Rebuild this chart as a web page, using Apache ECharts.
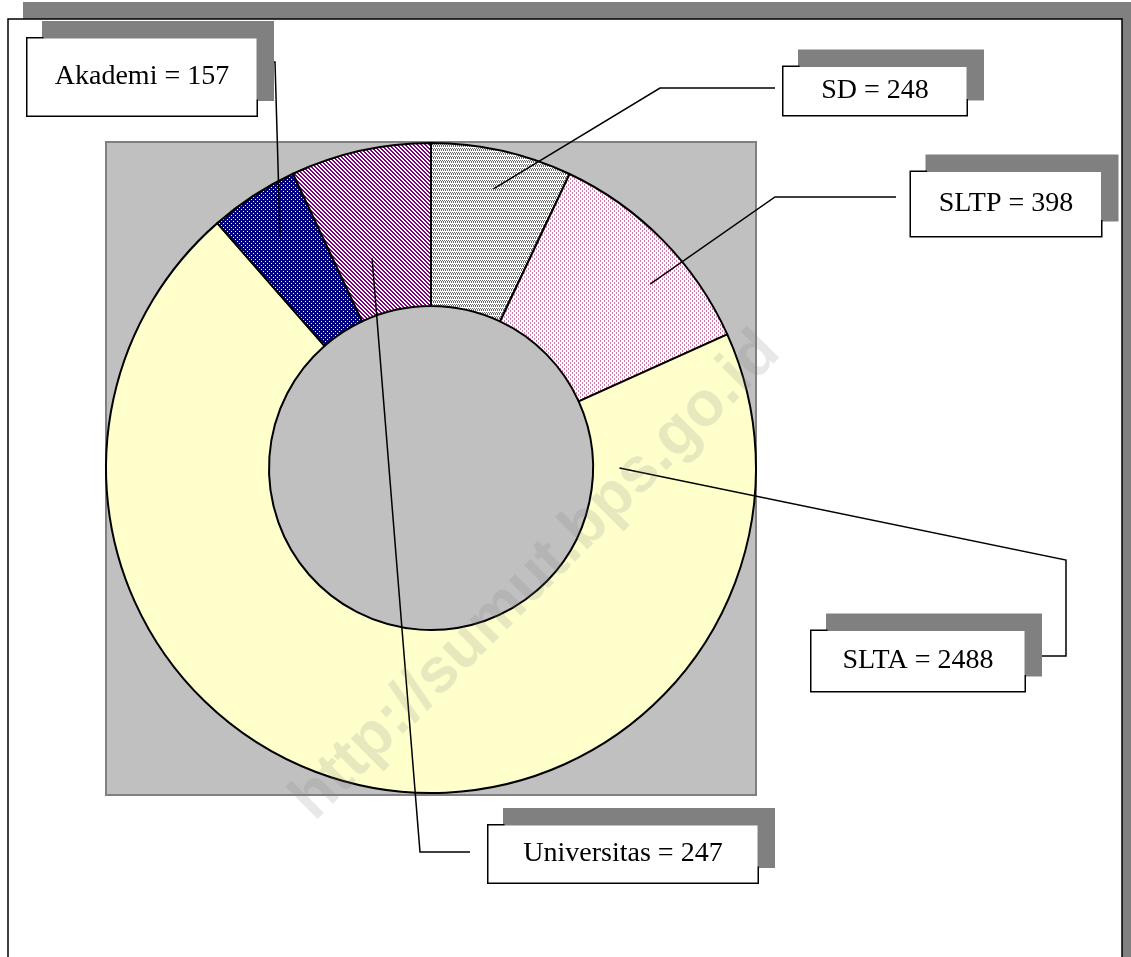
<!DOCTYPE html>
<html>
<head>
<meta charset="utf-8">
<script src="https://cdn.jsdelivr.net/npm/echarts@6/dist/echarts.min.js"></script>
<style>
html,body{margin:0;padding:0;background:#fff;}
#chart{width:1131px;height:957px;}
</style>
</head>
<body>
<div id="chart"></div>
<script>
// ---- data ----
const categories = ['SD', 'SLTP', 'SLTA', 'Akademi', 'Universitas'];
const values = [248, 398, 2488, 157, 247];

// ---- styles (patterns) ----
function makePattern(w, h, bg, fg, pixels) {
  const c = document.createElement('canvas');
  c.width = w; c.height = h;
  const g = c.getContext('2d');
  g.fillStyle = bg; g.fillRect(0, 0, w, h);
  g.fillStyle = fg;
  pixels.forEach(p => g.fillRect(p[0], p[1], 1, 1));
  return { image: c, repeat: 'repeat' };
}
const fills = {
  SD: makePattern(4, 4, '#ffffff', '#6a6a6a', [[0,0],[2,0],[1,1],[3,1],[1,2],[3,2]]),
  SLTP: makePattern(4, 4, '#ffffff', '#d27aac', [[0,0],[0,1],[2,2],[2,3]]),
  SLTA: '#FFFFCC',
  Akademi: makePattern(4, 4, '#000080', '#ffffff', [[1,1],[3,3]]),
  Universitas: makePattern(4, 4, '#ffffff', '#800080', [[0,0],[1,0],[1,1],[2,1],[2,2],[3,2],[3,3],[0,3]])
};

// ---- layout / style of the label boxes and leader lines ----
const CENTER = [431, 468];
const RADII = [162, 325];
// cx, cy: box center; w: box width; pad: padding; rFrac: where the leader starts inside the slice
// bends: leader-line bend points toward the box; anchorDeg: optional start angle (clockwise from top)
const labelBoxes = {
  SD: { cx: 875, cy: 91, w: 185, pad: [8, 0, 8, 0], rFrac: 0.88, bends: [[660, 88], [775, 88]] },
  SLTP: { cx: 1006, cy: 204, w: 192, pad: [16, 0, 16, 0], rFrac: 0.88, anchorDeg: 50, bends: [[775, 197], [896, 197]] },
  SLTA: { cx: 918, cy: 661, w: 215, pad: [14, 0, 14, 0], rFrac: 0.58, anchorDeg: 90, bends: [[1066, 560], [1066, 656], [1040, 656]] },
  Akademi: { cx: 142, cy: 77, w: 231, pad: [12, 0, 33, 0], rFrac: 0.85, bends: [[275, 62], [258, 62]] },
  Universitas: { cx: 623, cy: 854, w: 271, pad: [12, 0, 13, 0], rFrac: 0.67, anchorDeg: -15.7, bends: [[420, 852], [470, 852]] }
};

const chart = echarts.init(document.getElementById('chart'), null, { renderer: 'canvas' });

// slices
const sliceData = categories.map((name, i) => ({
  name: name,
  value: values[i],
  itemStyle: { color: fills[name] }
}));
// same values again, transparent, only to carry labels + leader lines above the slices
const labelData = categories.map((name, i) => ({
  name: name,
  value: values[i],
  label: {
    width: labelBoxes[name].w - 2,
    padding: labelBoxes[name].pad
  }
}));

const option = {
  animation: false,
  backgroundColor: '#ffffff',
  graphic: [
    { type: 'rect', z: -20, shape: { x: 23, y: 2, width: 1108, height: 960 }, style: { fill: '#808080' } },
    { type: 'rect', z: -19, shape: { x: 8, y: 19, width: 1114, height: 960 }, style: { fill: '#ffffff', stroke: '#000000', lineWidth: 1.5 } },
    { type: 'rect', z: -18, shape: { x: 106, y: 142, width: 650, height: 653 }, style: { fill: '#C0C0C0', stroke: '#808080', lineWidth: 2 } },
    { type: 'text', z: 100, x: 536, y: 576, rotation: 45 * Math.PI / 180,
      style: { text: 'http://sumut.bps.go.id', fill: 'rgba(128,128,128,0.18)', font: 'bold 63px "Liberation Sans", Arial, sans-serif', align: 'center', verticalAlign: 'middle' } }
  ],
  series: [{
    type: 'pie',
    z: 2,
    center: CENTER,
    radius: RADII,
    startAngle: 90,
    clockwise: true,
    silent: true,
    itemStyle: { borderColor: '#000000', borderWidth: 2 },
    label: { show: false },
    labelLine: { show: false },
    data: sliceData
  }, {
    type: 'pie',
    z: 5,
    center: CENTER,
    radius: RADII,
    startAngle: 90,
    clockwise: true,
    avoidLabelOverlap: false,
    silent: true,
    itemStyle: { color: 'rgba(0,0,0,0)', borderWidth: 0 },
    label: {
      show: true,
      position: 'outside',
      formatter: '{b} = {c}',
      fontFamily: '"Liberation Serif", "Times New Roman", serif',
      fontSize: 28,
      lineHeight: 32,
      color: '#000000',
      align: 'center',
      backgroundColor: '#ffffff',
      borderColor: '#000000',
      borderWidth: 1.5,
      shadowColor: '#808080',
      shadowBlur: 0,
      shadowOffsetX: 16,
      shadowOffsetY: -16
    },
    labelLine: { show: true, length: 20, length2: 20, lineStyle: { color: '#000000', width: 1.5 } },
    labelLayout: function (params) {
      const b = labelBoxes[categories[params.dataIndex]];
      // start point: on the ray from the centre through the library's own slice mid-point
      const p0 = params.labelLinePoints ? params.labelLinePoints[0] : [CENTER[0], CENTER[1] - RADII[1]];
      let ux = p0[0] - CENTER[0], uy = p0[1] - CENTER[1];
      if (b.anchorDeg != null) {
        const a = b.anchorDeg * Math.PI / 180;
        ux = Math.sin(a); uy = -Math.cos(a);
      }
      const len = Math.sqrt(ux * ux + uy * uy) || 1;
      const r = RADII[1] * b.rFrac;
      const start = [CENTER[0] + ux / len * r, CENTER[1] + uy / len * r];
      return {
        x: b.cx, y: b.cy, align: 'center', verticalAlign: 'middle',
        labelLinePoints: [start].concat(b.bends)
      };
    },
    data: labelData
  }]
};
chart.setOption(option);
</script>
</body>
</html>
